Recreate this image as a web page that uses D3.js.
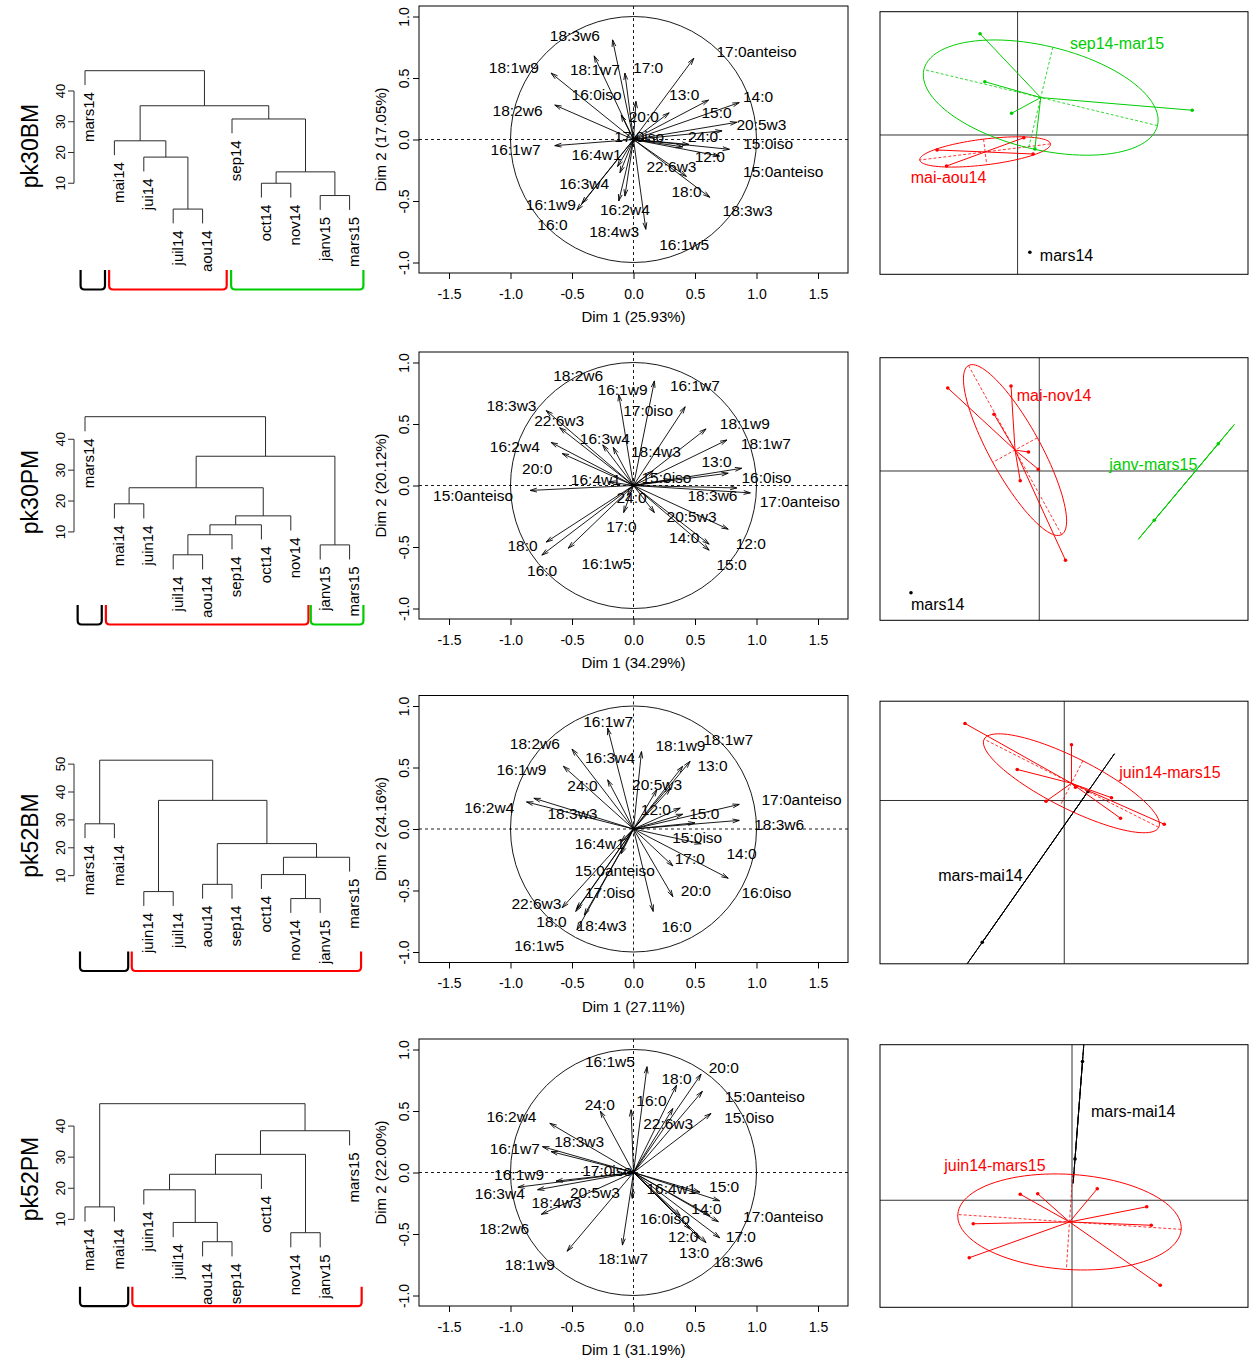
<!DOCTYPE html>
<html><head><meta charset="utf-8">
<script src="https://cdn.jsdelivr.net/npm/d3@7"></script>
<style>
body{margin:0;background:#fff}
svg{display:block}
text{font-family:"Liberation Sans",Arial,Helvetica,sans-serif;fill:#000}
</style></head>
<body><svg id="chart" width="1250" height="1360"></svg>
<script>
// ---------------- DATA ----------------
const rowNames = ["pk30BM","pk30PM","pk52BM","pk52PM"];
const dim1Pct = ["25.93","34.29","27.11","31.19"];
const dim2Pct = ["17.05","20.12","24.16","22.00"];

const faNames = ["12:0","13:0","14:0","15:0","15:0iso","15:0anteiso","16:0","16:0iso","16:1w5","16:1w7","16:1w9","16:2w4","16:3w4","16:4w1","17:0","17:0iso","17:0anteiso","18:0","18:1w7","18:1w9","18:2w6","18:3w3","18:3w6","18:4w3","20:0","20:5w3","22:6w3","24:0"];

// correlation coordinates (arrow tips) and label anchors
const pk30BM_dim1 = [0.70,0.29,0.86,0.61,0.78,0.45,-0.46,-0.10,0.10,-0.64,-0.42,-0.07,-0.13,-0.11,-0.07,0.02,0.49,0.62,-0.32,-0.67,-0.64,0.40,-0.17,-0.12,0.02,0.84,0.43,0.72];
const pk30BM_dim2 = [-0.135,0.217,0.30,0.32,-0.08,-0.04,-0.575,0.20,-0.73,-0.05,-0.52,-0.46,-0.22,-0.27,0.54,0.03,0.66,-0.47,0.68,0.54,0.28,-0.06,0.81,-0.50,0.31,0.14,-0.30,0.07];
const pk30BM_labDim1 = [0.62,0.412,1.013,0.675,1.095,1.217,-0.659,-0.30,0.412,-0.959,-0.672,-0.07,-0.401,-0.30,0.119,0.046,1.0,0.431,-0.314,-0.973,-0.943,0.927,-0.477,-0.157,0.084,1.04,0.309,0.566];
const pk30BM_labDim2 = [-0.14,0.366,0.352,0.217,-0.033,-0.257,-0.691,0.366,-0.854,-0.081,-0.528,-0.569,-0.36,-0.122,0.583,0.027,0.718,-0.42,0.569,0.583,0.238,-0.577,0.846,-0.745,0.19,0.122,-0.217,0.027];

const pk30PM_dim1 = [0.77,0.88,0.615,0.615,0.30,-0.84,-0.745,0.77,-0.53,0.42,-0.12,-0.67,-0.25,-0.20,-0.08,0.17,0.95,-0.71,0.76,0.59,-0.165,-0.71,0.84,0.16,-0.58,0.17,-0.60,-0.05];
const pk30PM_dim2 = [-0.355,0.14,-0.477,-0.526,0.05,-0.04,-0.566,0.10,-0.51,0.64,0.74,0.35,0.33,0.03,-0.22,0.85,-0.06,-0.46,0.37,0.46,0.31,0.61,-0.02,0.12,0.26,-0.22,0.47,-0.08];
const pk30PM_labDim1 = [0.954,0.675,0.412,0.797,0.268,-1.304,-0.743,1.081,-0.22,0.499,-0.089,-0.965,-0.233,-0.306,-0.098,0.119,1.352,-0.902,1.076,0.905,-0.45,-0.992,0.642,0.182,-0.783,0.472,-0.604,-0.016];
const pk30PM_labDim2 = [-0.472,0.195,-0.423,-0.64,0.065,-0.084,-0.694,0.065,-0.634,0.81,0.783,0.314,0.385,0.046,-0.333,0.607,-0.13,-0.49,0.341,0.507,0.892,0.648,-0.084,0.276,0.141,-0.252,0.531,-0.098];

const pk52BM_dim1 = [0.38,0.30,0.77,0.40,0.50,-0.10,0.16,0.55,-0.46,-0.21,-0.57,-0.87,0.065,-0.10,0.32,-0.46,0.86,-0.47,0.46,0.40,-0.50,-0.81,0.86,-0.40,0.32,0.19,-0.58,-0.21];
const pk52BM_dim2 = [0.17,0.33,-0.40,0.12,0.05,-0.20,-0.67,-0.12,-0.82,0.82,0.51,0.22,0.63,-0.10,-0.30,-0.65,0.20,-0.67,0.55,0.51,0.65,0.25,0.07,-0.70,-0.55,0.32,-0.64,0.40];
const pk52BM_labDim1 = [0.182,0.642,0.878,0.575,0.518,-0.152,0.35,1.081,-0.767,-0.206,-0.911,-1.173,-0.192,-0.274,0.458,-0.192,1.366,-0.667,0.77,0.382,-0.802,-0.496,1.184,-0.26,0.507,0.192,-0.789,-0.415];
const pk52BM_labDim2 = [0.162,0.514,-0.2,0.13,-0.065,-0.338,-0.789,-0.514,-0.946,0.873,0.481,0.178,0.584,-0.119,-0.243,-0.519,0.243,-0.754,0.73,0.676,0.692,0.13,0.035,-0.781,-0.497,0.365,-0.608,0.354];

const pk52PM_dim1 = [0.46,0.54,0.69,0.70,0.63,0.56,-0.02,0.38,0.11,-0.74,-0.63,-0.68,-0.94,0.54,0.70,-0.05,0.62,0.35,-0.09,-0.54,-0.01,-0.67,0.59,-0.75,0.55,-0.78,0.32,-0.27];
const pk52PM_dim2 = [-0.46,-0.54,-0.40,-0.23,0.48,0.66,0.51,-0.35,0.86,0.21,-0.07,0.40,-0.12,-0.16,-0.53,0.00,-0.35,0.71,-0.59,-0.64,-0.21,0.17,-0.57,-0.34,0.80,-0.14,0.52,0.50];
const pk52PM_labDim1 = [0.404,0.493,0.593,0.737,0.94,1.068,0.146,0.255,-0.192,-0.965,-0.93,-0.992,-1.087,0.309,0.873,-0.214,1.217,0.35,-0.084,-0.843,-1.051,-0.442,0.851,-0.626,0.734,-0.314,0.282,-0.274];
const pk52PM_labDim2 = [-0.518,-0.648,-0.29,-0.114,0.45,0.621,0.585,-0.377,0.902,0.198,-0.019,0.455,-0.173,-0.133,-0.52,0.016,-0.358,0.762,-0.696,-0.751,-0.453,0.252,-0.724,-0.241,0.856,-0.16,0.396,0.553];

const pcaTicksX = [-1.5,-1.0,-0.5,0.0,0.5,1.0,1.5];
const pcaTicksY = [-1.0,-0.5,0.0,0.5,1.0];

// dendrograms: leaf order and merges [childA, childB, height] (numbers = earlier merge, 1-based)
const pk30BM_leaves = ["mars14","mai14","jui14","juil14","aou14","sep14","oct14","nov14","janv15","mars15"];
const pk30BM_merges = [["juil14","aou14",1.6],["janv15","mars15",6.0],["oct14","nov14",10.0],[3,2,13.7],["jui14",1,18.5],["mai14",5,23.8],["sep14",4,30.9],[6,7,35.2],["mars14",8,46.6]];
const pk30PM_leaves = ["mars14","mai14","juin14","juil14","aou14","sep14","oct14","nov14","janv15","mars15"];
const pk30PM_merges = [["juil14","aou14",2.6],["janv15","mars15",5.8],[1,"sep14",9.1],[3,"oct14",12.3],[4,"nov14",15.2],["mai14","juin14",19.1],[6,5,24.3],[7,2,34.5],["mars14",8,47.3]];
const pk52BM_leaves = ["mars14","mai14","juin14","juil14","aou14","sep14","oct14","nov14","janv15","mars15"];
const pk52BM_merges = [["nov14","janv15",1.8],["juin14","juil14",4.3],["aou14","sep14",6.9],["oct14",1,10.4],[4,"mars15",16.6],[3,5,21.5],["mars14","mai14",28.6],[2,6,37.0],[7,8,51.4]];
const pk52PM_leaves = ["mar14","mai14","juin14","juil14","aou14","sep14","oct14","nov14","janv15","mars15"];
const pk52PM_merges = [["aou14","sep14",2.8],["nov14","janv15",5.7],["juil14",1,9.0],["mar14","mai14",14.0],["juin14",3,19.5],[5,"oct14",24.5],[6,2,30.9],[7,"mars15",38.5],[4,8,47.2]];

// cluster groups (individual coordinates on the first factorial plane)
const pk30BM_groups = ["mars14","mai-aou14","sep14-mar15"];
const pk30BM_gx = [[0.49],[-3.22,-2.84,0.25,0.62],[-1.50,-1.31,-0.24,6.98,0.69]];
const pk30BM_gy = [[-4.69],[-0.60,-1.24,-0.11,-0.76],[4.05,2.13,0.87,0.99,-0.56]];
const pk30PM_groups = ["mars14","mai-nov14","janv-mars15"];
const pk30PM_gx = [[-5.13],[-3.66,-1.13,-1.81,-0.43,-0.04,-0.76,1.05],[4.60,7.16]];
const pk30PM_gy = [[-4.87],[3.32,3.40,2.27,0.76,0.07,-0.39,-3.57],[-1.97,1.09]];
const pk52BM_groups = ["mars-mai14","juin14-mars15"];
const pk52BM_gx = [[-3.28,0.95],[-3.97,0.29,-1.88,0.45,1.89,-0.73,2.25,4.00]];
const pk52BM_gy = [[-5.67,0.36],[3.08,2.23,1.24,0.53,0.11,-0.03,-0.71,-0.95]];
const pk52PM_groups = ["mars-mai14","juin14-mars15"];
const pk52PM_gx = [[0.12,0.42],[-2.07,-1.37,1.01,2.99,-3.95,3.17,-4.11,3.53]];
const pk52PM_gy = [[1.65,5.55],[0.24,0.26,0.46,-0.26,-0.94,-1.00,-2.30,-3.40]];

// ---------------- LAYOUT / STYLE ----------------
const groupColors = ["#000000","#FF0000","#00CD00"];
const rowOffset = [0, 346, 689.5, 1033];
const bracketTop = [270, 259, 262, 253.7];
const bracketEdges = [
  [[-0.15,0.68],[0.82,4.82],[4.97,9.47]],
  [[-0.25,0.57],[0.71,7.6],[7.68,9.47]],
  [[-0.17,1.47],[1.59,9.39]],
  [[-0.17,1.47],[1.61,9.41]]
];
const clusterXlim = [[-5.5,9.21],[-6.37,8.35],[-7.37,7.35],[-7.68,7.04]];
const clusterYlim = [[-5.57,4.93],[-5.97,4.53],[-6.53,3.97],[-4.28,6.22]];
const clusterLabelPos = [
  [[0.89,-4.8],[-4.27,-1.67],[2.09,3.67]],
  [[-5.13,-5.31],[-0.9,3.03],[2.8,0.29]],
  [[-5.04,-3.0],[2.2,1.11]],
  [[0.76,3.57],[-5.11,1.41]]
];

const rows = [
  {name:rowNames[0], p1:dim1Pct[0], p2:dim2Pct[0], d1:pk30BM_dim1, d2:pk30BM_dim2, l1:pk30BM_labDim1, l2:pk30BM_labDim2, leaves:pk30BM_leaves, merges:pk30BM_merges, groups:pk30BM_groups, gx:pk30BM_gx, gy:pk30BM_gy},
  {name:rowNames[1], p1:dim1Pct[1], p2:dim2Pct[1], d1:pk30PM_dim1, d2:pk30PM_dim2, l1:pk30PM_labDim1, l2:pk30PM_labDim2, leaves:pk30PM_leaves, merges:pk30PM_merges, groups:pk30PM_groups, gx:pk30PM_gx, gy:pk30PM_gy},
  {name:rowNames[2], p1:dim1Pct[2], p2:dim2Pct[2], d1:pk52BM_dim1, d2:pk52BM_dim2, l1:pk52BM_labDim1, l2:pk52BM_labDim2, leaves:pk52BM_leaves, merges:pk52BM_merges, groups:pk52BM_groups, gx:pk52BM_gx, gy:pk52BM_gy},
  {name:rowNames[3], p1:dim1Pct[3], p2:dim2Pct[3], d1:pk52PM_dim1, d2:pk52PM_dim2, l1:pk52PM_labDim1, l2:pk52PM_labDim2, leaves:pk52PM_leaves, merges:pk52PM_merges, groups:pk52PM_groups, gx:pk52PM_gx, gy:pk52PM_gy}
];

const svg = d3.select("#chart");
svg.append("rect").attr("width",1250).attr("height",1360).attr("fill","#fff");
const fmt1 = v => v.toFixed(1);

// ---------------- DENDROGRAM ----------------
function drawDendro(g, r, i) {
  const leaves = r.leaves, merges = r.merges;
  const x = d3.scalePoint().domain(leaves).range([85, 85 + 29.4*(leaves.length-1)]);
  const maxH = d3.max(merges, m => m[2]);
  const hang = 0.1*maxH;
  const leafEnd = {};
  merges.forEach(m => [m[0], m[1]].forEach(c => { if (typeof c === "string") leafEnd[c] = m[2]-hang; }));
  const minEnd = d3.min(Object.values(leafEnd));
  const top = 70.7, span = 152.7;
  const y = d3.scaleLinear().domain([minEnd, maxH]).range([top+span, top]);
  const pos = [];
  const cX = c => typeof c === "string" ? x(c) : pos[c-1];
  const cY = c => typeof c === "string" ? y(leafEnd[c]) : y(merges[c-1][2]);
  const lines = g.append("g").attr("fill","none").attr("stroke","#2a2a2a").attr("stroke-width",1);
  merges.forEach((m, k) => {
    const xa = cX(m[0]), xb = cX(m[1]);
    pos[k] = (xa+xb)/2;
    lines.append("path").attr("d", `M${xa},${cY(m[0])}V${y(m[2])}H${xb}V${cY(m[1])}`);
  });
  // leaf labels
  leaves.forEach(l => {
    const lx = x(l), ly = y(leafEnd[l]) + 7;
    g.append("text").attr("transform", `translate(${lx},${ly}) rotate(-90)`)
      .attr("text-anchor","end").attr("dy","0.63em").attr("font-size",15).text(l);
  });
  // y axis
  const ticks = d3.range(10, maxH+0.001, 10);
  const ax = g.append("g").attr("stroke","#2a2a2a").attr("stroke-width",1);
  ax.append("line").attr("x1",74).attr("x2",74).attr("y1",y(ticks[0])).attr("y2",y(ticks[ticks.length-1]));
  ticks.forEach(t => {
    ax.append("line").attr("x1",68).attr("x2",74).attr("y1",y(t)).attr("y2",y(t));
    g.append("text").attr("transform",`translate(65,${y(t)}) rotate(-90)`).attr("text-anchor","middle")
      .attr("font-size",13).text(t);
  });
  // row title
  g.append("text").attr("transform","translate(38,146) rotate(-90)").attr("text-anchor","middle")
    .attr("font-size",23).text(r.name);
  // brackets
  const bt = bracketTop[i], bh = 19.5, rad = 4;
  const step = 29.4;
  bracketEdges[i].forEach((e, k) => {
    const x1 = 85 + e[0]*step, x2 = 85 + e[1]*step, yb = bt + bh;
    g.append("path").attr("fill","none").attr("stroke", groupColors[k]).attr("stroke-width",2.2)
      .attr("d", `M${x1},${bt}V${yb-rad}Q${x1},${yb} ${x1+rad},${yb}H${x2-rad}Q${x2},${yb} ${x2},${yb-rad}V${bt}`);
  });
}

// ---------------- PCA CORRELATION CIRCLE ----------------
function drawPCA(g, r) {
  const L = 419, R = 848, T = 6, B = 273, k = 123;
  const cx = (L+R)/2, cy = (T+B)/2;
  const x = d3.scaleLinear().domain([-(cx-L)/k, (R-cx)/k]).range([L, R]);
  const y = d3.scaleLinear().domain([-(B-cy)/k, (cy-T)/k]).range([B, T]);
  g.append("rect").attr("x",L).attr("y",T).attr("width",R-L).attr("height",B-T)
    .attr("fill","none").attr("stroke","#000").attr("stroke-width",1);
  // dashed reference lines
  g.append("line").attr("x1",L).attr("x2",R).attr("y1",y(0)).attr("y2",y(0))
    .attr("stroke","#000").attr("stroke-width",0.9).attr("stroke-dasharray","3,3");
  g.append("line").attr("x1",x(0)).attr("x2",x(0)).attr("y1",T).attr("y2",B)
    .attr("stroke","#000").attr("stroke-width",0.9).attr("stroke-dasharray","3,3");
  // unit circle
  g.append("ellipse").attr("cx",x(0)).attr("cy",y(0)).attr("rx",x(1)-x(0)).attr("ry",y(0)-y(1))
    .attr("fill","none").attr("stroke","#000").attr("stroke-width",0.9);
  // arrows
  const ag = g.append("g").attr("stroke","#000").attr("stroke-width",0.9).attr("fill","none");
  const hl = 7, ha = 16*Math.PI/180;
  faNames.forEach((n, j) => {
    const x0 = x(0), y0 = y(0), x1 = x(r.d1[j]), y1 = y(r.d2[j]);
    const ang = Math.atan2(y1-y0, x1-x0);
    ag.append("path").attr("d",
      `M${x0},${y0}L${x1},${y1}M${x1-hl*Math.cos(ang-ha)},${y1-hl*Math.sin(ang-ha)}L${x1},${y1}L${x1-hl*Math.cos(ang+ha)},${y1-hl*Math.sin(ang+ha)}`);
  });
  faNames.forEach((n, j) => {
    g.append("text").attr("x", x(r.l1[j])).attr("y", y(r.l2[j])).attr("dy","0.36em")
      .attr("text-anchor","middle").attr("font-size",15.5).text(n);
  });
  // axes
  const xa = g.append("g").attr("transform",`translate(0,${B})`)
    .call(d3.axisBottom(x).tickValues(pcaTicksX).tickFormat(fmt1).tickSize(6).tickSizeOuter(0));
  xa.select(".domain").remove();
  xa.selectAll("text").attr("y",25.5).attr("dy",0).attr("font-size",14)
    .attr("font-family","'Liberation Sans',Arial,sans-serif").attr("fill","#000");
  const ya = g.append("g").attr("transform",`translate(${L},0)`)
    .call(d3.axisLeft(y).tickValues(pcaTicksY).tickFormat(fmt1).tickSize(6).tickSizeOuter(0));
  ya.select(".domain").remove();
  ya.selectAll("text").attr("x",null).attr("dy",null).attr("text-anchor","middle")
    .attr("transform","translate(-10,0) rotate(-90)").attr("font-size",14)
    .attr("font-family","'Liberation Sans',Arial,sans-serif").attr("fill","#000");
  g.append("text").attr("x",cx).attr("y",322).attr("text-anchor","middle").attr("font-size",15)
    .text(`Dim 1 (${r.p1}%)`);
  g.append("text").attr("transform",`translate(386,${cy}) rotate(-90)`).attr("text-anchor","middle")
    .attr("font-size",15).text(`Dim 2 (${r.p2}%)`);
}

// ---------------- CLUSTER PLANE (s.class style) ----------------
function ellipseOf(mx, my, vx, cxy, vy, coeff) {
  const epsi = 1e-10;
  if (vx < 0) vx = 0; if (vy < 0) vy = 0;
  if (vx === 0 && vy === 0) return null;
  let delta = Math.sqrt((vx-vy)*(vx-vy) + 4*cxy*cxy);
  let l1 = (vx+vy+delta)/2, l2 = vx+vy-l1;
  if (l1 < 0) l1 = 0; if (l2 < 0) l2 = 0;
  l1 = Math.sqrt(l1); l2 = Math.sqrt(l2);
  let a0, b0, test = 0;
  if (vx === 0) { a0 = 0; b0 = 1; test = 1; }
  if (vy === 0 && test === 0) { a0 = 1; b0 = 0; test = 1; }
  if (Math.abs(cxy) < epsi && test === 0) { if (vx > vy) { a0 = 1; b0 = 0; } else { a0 = 0; b0 = 1; } test = 1; }
  if (test === 0) { a0 = 1; b0 = (l1*l1 - vx)/cxy; const nm = Math.sqrt(a0*a0 + b0*b0); a0 /= nm; b0 /= nm; }
  const c11 = coeff*a0*l1, c12 = -coeff*b0*l2, c21 = coeff*b0*l1, c22 = coeff*a0*l2;
  const pts = d3.range(100).map(i => { const a = i*2*Math.PI/100; return [mx + c11*Math.cos(a) + c12*Math.sin(a), my + c21*Math.cos(a) + c22*Math.sin(a)]; });
  return {pts, seg1:[mx+c11, my+c21, mx-c11, my-c21], seg2:[mx+c12, my+c22, mx-c12, my-c22]};
}

function drawClusters(g, r, i) {
  const L = 880, R = 1248, T = 11.7, B = 274.3;
  const x = d3.scaleLinear().domain(clusterXlim[i]).range([L, R]);
  const y = d3.scaleLinear().domain(clusterYlim[i]).range([B, T]);
  const cid = "clip" + i;
  g.append("clipPath").attr("id", cid).append("rect").attr("x",L).attr("y",T).attr("width",R-L).attr("height",B-T);
  const pg = g.append("g").attr("clip-path", `url(#${cid})`);
  pg.append("line").attr("x1",L).attr("x2",R).attr("y1",y(0)).attr("y2",y(0)).attr("stroke","#333").attr("stroke-width",1);
  pg.append("line").attr("x1",x(0)).attr("x2",x(0)).attr("y1",T).attr("y2",B).attr("stroke","#333").attr("stroke-width",1);
  r.groups.forEach((name, k) => {
    const col = groupColors[k];
    const xs = r.gx[k], ys = r.gy[k], n = xs.length;
    const mx = d3.mean(xs), my = d3.mean(ys);
    const vx = d3.mean(xs, v => (v-mx)*(v-mx));
    const vy = d3.mean(ys, v => (v-my)*(v-my));
    const cxy = d3.mean(xs.map((v, j) => (v-mx)*(ys[j]-my)));
    const el = n > 1 ? ellipseOf(mx, my, vx, cxy, vy, 1.5) : null;
    if (el) {
      [el.seg1, el.seg2].forEach(s => {
        pg.append("line").attr("x1",x(s[0])).attr("y1",y(s[1])).attr("x2",x(s[2])).attr("y2",y(s[3]))
          .attr("stroke",col).attr("stroke-width",0.8).attr("stroke-dasharray","3,2");
      });
      pg.append("path").attr("d", d3.line().x(p => x(p[0])).y(p => y(p[1])).curve(d3.curveLinearClosed)(el.pts))
        .attr("fill","none").attr("stroke",col).attr("stroke-width",1);
      xs.forEach((v, j) => {
        pg.append("line").attr("x1",x(mx)).attr("y1",y(my)).attr("x2",x(v)).attr("y2",y(ys[j]))
          .attr("stroke",col).attr("stroke-width",1);
      });
    }
    xs.forEach((v, j) => {
      pg.append("circle").attr("cx",x(v)).attr("cy",y(ys[j])).attr("r",1.8).attr("fill",col);
    });
    const lp = clusterLabelPos[i][k];
    g.append("text").attr("x",x(lp[0])).attr("y",y(lp[1])).attr("dy","0.36em").attr("font-size",16)
      .style("fill",col).text(name);
  });
  g.append("rect").attr("x",L).attr("y",T).attr("width",R-L).attr("height",B-T)
    .attr("fill","none").attr("stroke","#000").attr("stroke-width",1);
}

rows.forEach((r, i) => {
  const g = svg.append("g").attr("transform", `translate(0,${rowOffset[i]})`);
  drawDendro(g, r, i);
  drawPCA(g, r);
  drawClusters(g, r, i);
});
</script>
</body></html>
